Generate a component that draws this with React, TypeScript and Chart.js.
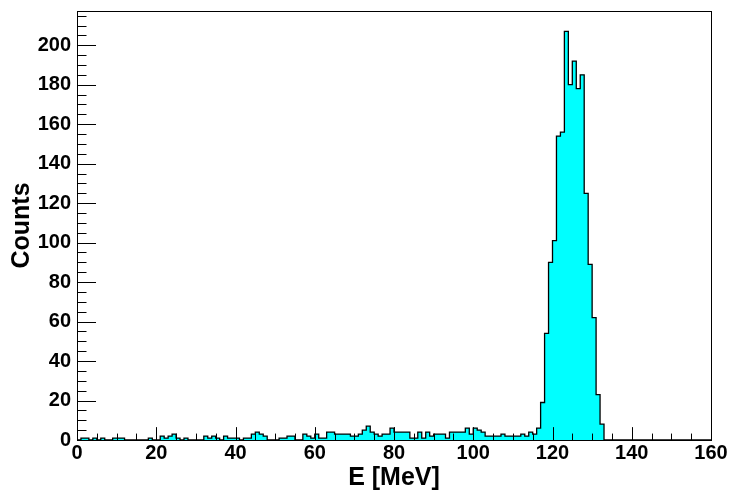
import React, { useEffect, useRef } from "react";
import { Chart, registerables } from "chart.js";

Chart.register(...registerables);

// Histogram: 160 bins of 1 MeV, from 0 to 160 MeV
const binLow = 0;
const binWidth = 1;
const counts: number[] = [
  // 0-19
  1, 0, 1, 1, 0, 1, 0, 1, 0, 0, 1, 1, 1, 0, 0, 0, 0, 0, 0, 1,
  // 20-39
  0, 0, 2, 1, 2, 3, 1, 0, 1, 0, 0, 0, 0, 2, 1, 2, 1, 0, 2, 1,
  // 40-59
  1, 1, 0, 1, 1, 3, 4, 3, 2, 0, 0, 0, 1, 1, 2, 2, 0, 0, 3, 2,
  // 60-79
  1, 3, 1, 1, 4, 4, 3, 3, 3, 3, 2, 2, 3, 5, 7, 4, 3, 2, 3, 3,
  // 80-99
  6, 4, 4, 4, 4, 1, 1, 4, 1, 4, 2, 3, 3, 3, 1, 4, 4, 4, 4, 6,
  // 100-119
  3, 6, 5, 4, 2, 2, 2, 2, 3, 2, 2, 2, 2, 3, 2, 4, 3, 6, 19, 54,
  // 120-139
  90, 101, 154, 156, 207, 180, 192, 178, 185, 125, 89, 62, 23, 8, 0, 0, 0, 0, 0, 0,
  // 140-159
  0, 0, 0, 0, 0, 0, 0, 0, 0, 0, 0, 0, 0, 0, 0, 0, 0, 0, 0, 0,
];

const xMin = 0;
const xMax = 160;
const yMin = 0;
const yMax = 217.35;
const xTickLabels = [0, 20, 40, 60, 80, 100, 120, 140, 160];
const yTickLabels = [0, 20, 40, 60, 80, 100, 120, 140, 160, 180, 200];
const xMinorStep = 5;
const yMinorStep = 5;
const xTitle = "E [MeV]";
const yTitle = "Counts";

const FONT = "'Liberation Sans', Arial, Helvetica, sans-serif";

const rootAxesPlugin = {
  id: "rootAxes",
  afterDatasetsDraw(chart: any) {
    const { ctx, chartArea: a, scales } = chart;
    const x = scales.x;
    const y = scales.y;
    ctx.save();
    ctx.strokeStyle = "#000";
    ctx.lineWidth = 1;
    ctx.beginPath();
    const h = a.bottom - a.top;
    const w = a.right - a.left;
    const xMajLen = h * 0.03;
    const yMajLen = w * 0.03;
    for (let v = xMin; v <= xMax + 1e-9; v += xMinorStep) {
      const px = Math.round(x.getPixelForValue(v)) + 0.5;
      const major = xTickLabels.includes(v);
      const len = major ? xMajLen : xMajLen / 2;
      ctx.moveTo(px, a.bottom);
      ctx.lineTo(px, a.bottom - len);
    }
    for (let v = yMin; v <= yMax + 1e-9; v += yMinorStep) {
      const py = Math.round(y.getPixelForValue(v)) + 0.5;
      const major = yTickLabels.includes(v);
      const len = major ? yMajLen : yMajLen / 2;
      ctx.moveTo(a.left, py);
      ctx.lineTo(a.left + len, py);
    }
    ctx.stroke();
    ctx.strokeRect(
      Math.round(a.left) + 0.5,
      Math.round(a.top) + 0.5,
      Math.round(w),
      Math.round(h)
    );
    ctx.restore();
  },
};

export default function App() {
  const canvasRef = useRef<HTMLCanvasElement | null>(null);

  useEffect(() => {
    if (!canvasRef.current) return;
    const points = counts.map((c, i) => ({ x: binLow + i * binWidth, y: c }));
    points.push({ x: binLow + counts.length * binWidth, y: counts[counts.length - 1] });

    const chart = new Chart(canvasRef.current, {
      type: "line",
      data: {
        datasets: [
          {
            data: points,
            stepped: "after",
            fill: "origin",
            backgroundColor: "#00ffff",
            borderColor: "#000000",
            borderWidth: 1.3,
            pointRadius: 0,
            pointHoverRadius: 0,
            tension: 0,
          } as any,
        ],
      },
      options: {
        responsive: false,
        animation: false,
        devicePixelRatio: 1,
        layout: { padding: { left: 0, right: 19, top: 11, bottom: 0 } },
        plugins: {
          legend: { display: false },
          tooltip: { enabled: false },
        },
        scales: {
          x: {
            type: "linear",
            min: xMin,
            max: xMax,
            grid: { display: false, drawTicks: false },
            border: { display: false },
            afterBuildTicks: (s: any) => {
              s.ticks = xTickLabels.map((v) => ({ value: v }));
            },
            afterFit: (s: any) => {
              s.height = 53;
              s.paddingLeft = 0;
              s.paddingRight = 0;
            },
            ticks: {
              autoSkip: false,
              maxRotation: 0,
              padding: 1,
              color: "#000",
              font: { family: FONT, size: 20, weight: "bold" },
            },
            title: {
              display: true,
              text: xTitle,
              color: "#000",
              font: { family: FONT, size: 25, weight: "bold" },
              padding: { top: 0, bottom: 0 },
            },
          },
          y: {
            type: "linear",
            min: yMin,
            max: yMax,
            grid: { display: false, drawTicks: false },
            border: { display: false },
            afterBuildTicks: (s: any) => {
              s.ticks = yTickLabels.map((v) => ({ value: v }));
            },
            afterFit: (s: any) => {
              s.width = 77;
              s.paddingTop = 0;
              s.paddingBottom = 0;
            },
            ticks: {
              autoSkip: false,
              padding: 6,
              color: "#000",
              font: { family: FONT, size: 20, weight: "bold" },
            },
            title: {
              display: true,
              text: yTitle,
              color: "#000",
              font: { family: FONT, size: 25, weight: "bold" },
              padding: { top: 7, bottom: 0 },
            },
          },
        },
      },
      plugins: [rootAxesPlugin],
    });
    return () => chart.destroy();
  }, []);

  return (
    <div style={{ position: "absolute", left: 0, top: 0, width: 730, height: 493, background: "#fff" }}>
      <canvas ref={canvasRef} width={730} height={493} />
    </div>
  );
}
